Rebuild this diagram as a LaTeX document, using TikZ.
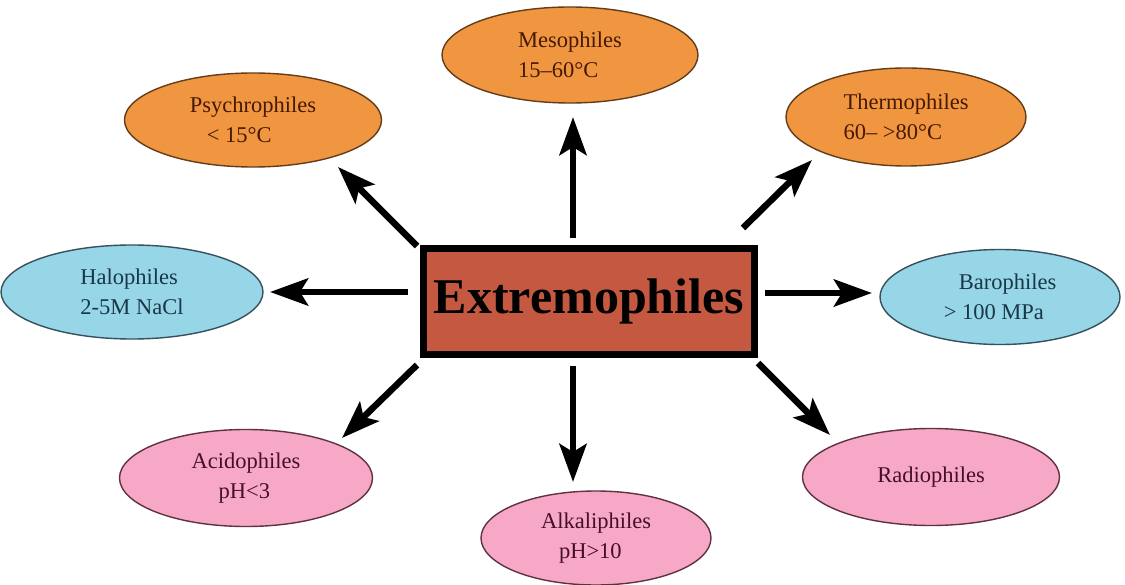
\documentclass[tikz,border=0pt]{standalone}
\usepackage{fontspec}
\setmainfont{Liberation Serif}
\usetikzlibrary{shapes.geometric,arrows.meta}
\definecolor{orfill}{RGB}{240,150,64}
\definecolor{ordraw}{RGB}{100,60,25}
\definecolor{ortext}{RGB}{70,25,5}
\definecolor{blfill}{RGB}{150,214,230}
\definecolor{bldraw}{RGB}{55,80,95}
\definecolor{bltext}{RGB}{25,55,70}
\definecolor{pkfill}{RGB}{246,168,198}
\definecolor{pkdraw}{RGB}{95,50,65}
\definecolor{pktext}{RGB}{70,15,40}
\definecolor{boxfill}{RGB}{196,88,64}
\tikzset{
  oval/.style={ellipse, inner sep=0pt, line width=1.4pt, align=left,
    font=\fontsize{22.5}{30}\selectfont},
  orng/.style={oval, fill=orfill, draw=ordraw, text=ortext},
  blue/.style={oval, fill=blfill, draw=bldraw, text=bltext},
  pink/.style={oval, fill=pkfill, draw=pkdraw, text=pktext},
  arr/.style={line width=6.5pt, draw=black,
    -{Stealth[length=38pt,width=27pt,inset=8pt]}},
}
\begin{document}
\begin{tikzpicture}[x=1pt,y=-1pt]
\useasboundingbox (0,0) rectangle (1125,585);
% central box
\node[draw=black, fill=boxfill, line width=7pt, minimum width=331pt,
  minimum height=106pt, inner sep=0pt,
  font=\fontsize{50}{56}\selectfont\bfseries] (box) at (589,301.5) {Extremophiles};
% ellipses
\node[orng, minimum width=256pt, minimum height=96pt] (meso) at (570,55)
  {Mesophiles\\15--60°C};
\node[orng, minimum width=257pt, minimum height=94pt] (psy) at (253,120)
  {Psychrophiles\\\hspace{17pt}< 15°C};
\node[orng, minimum width=240pt, minimum height=98pt] (thermo) at (906,117)
  {Thermophiles\\60-- >80°C};
\node[blue, minimum width=262pt, minimum height=94pt] (halo) at (132,292)
  {Halophiles\\2-5M NaCl};
\node[blue, minimum width=240pt, minimum height=95pt] (baro) at (1000,297)
  {\hspace{15pt}Barophiles\\> 100 MPa};
\node[pink, minimum width=253pt, minimum height=97pt] (acido) at (246,478)
  {Acidophiles\\\hspace{27pt}pH<3};
\node[pink, minimum width=230pt, minimum height=94pt] (alkali) at (596,538)
  {Alkaliphiles\\\hspace{18pt}pH>10};
\node[pink, minimum width=257pt, minimum height=97pt] (radio) at (931,477)
  {Radiophiles};
% arrow ends
\coordinate (sU) at (573,238);  \coordinate (tU) at (573,117);
\coordinate (sD) at (573,366);  \coordinate (tD) at (573,482);
\coordinate (sL) at (408,292);  \coordinate (tL) at (270,292);
\coordinate (sR) at (765,293);  \coordinate (tR) at (872,293);
\coordinate (sUL) at (417,246); \coordinate (tUL) at (338,167);
\coordinate (sUR) at (743,228); \coordinate (tUR) at (812,160);
\coordinate (sDL) at (417,365); \coordinate (tDL) at (342,438);
\coordinate (sDR) at (758,363); \coordinate (tDR) at (830,435);
\draw[arr] (sU) -- (tU);
\draw[arr] (sD) -- (tD);
\draw[arr] (sL) -- (tL);
\draw[arr] (sR) -- (tR);
\draw[arr] (sUL) -- (tUL);
\draw[arr] (sUR) -- (tUR);
\draw[arr] (sDL) -- (tDL);
\draw[arr] (sDR) -- (tDR);
\end{tikzpicture}
\end{document}
